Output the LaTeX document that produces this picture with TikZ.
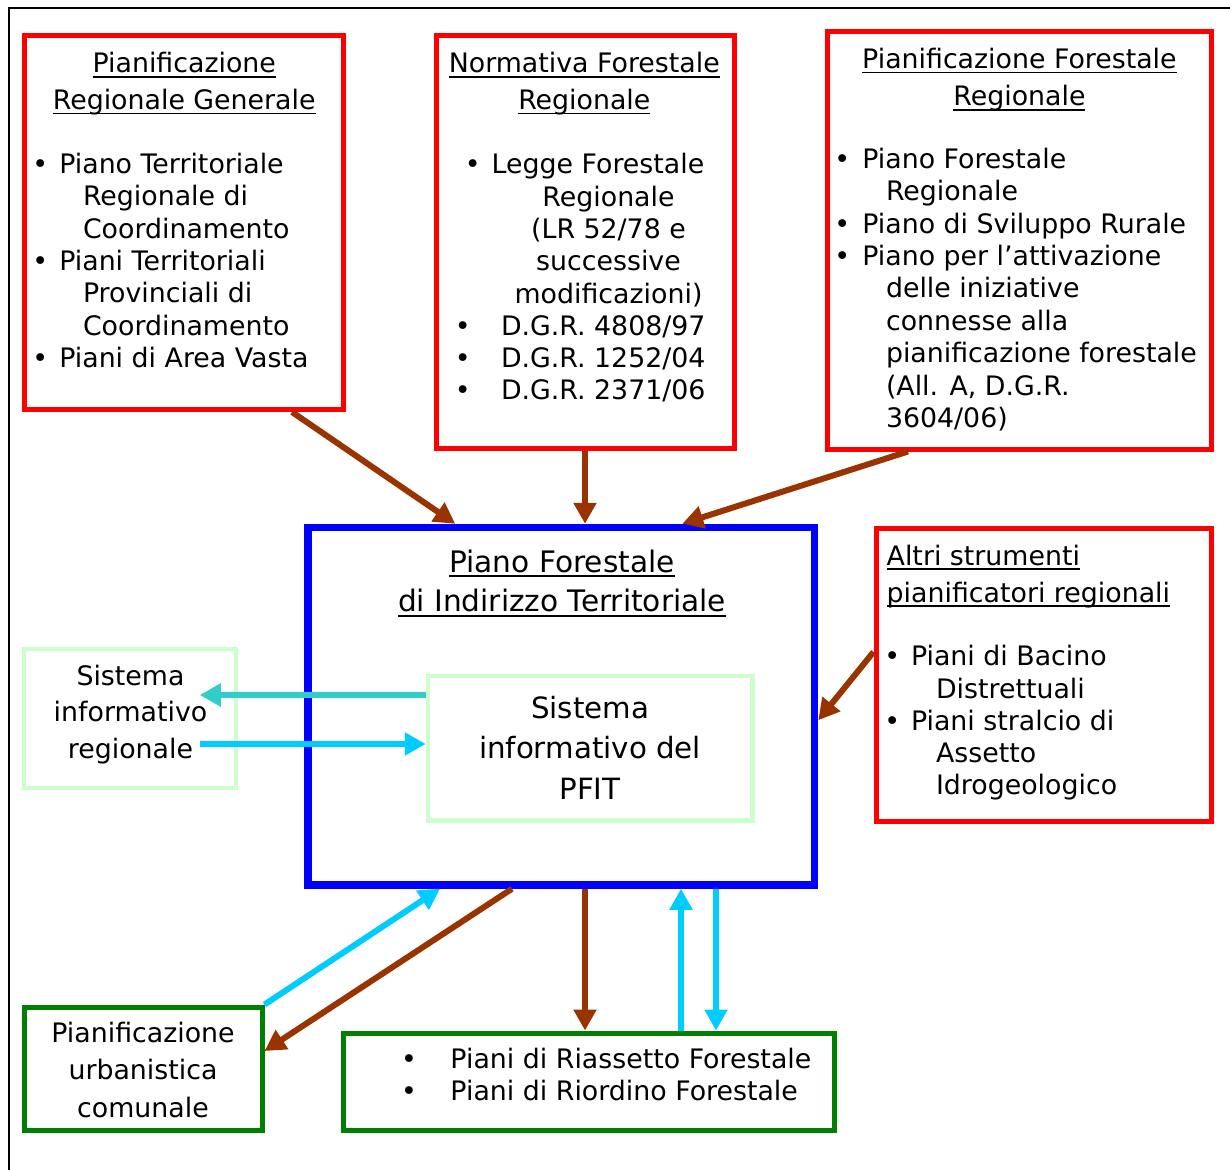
\documentclass[tikz,border=0pt]{standalone}
\usepackage{fontspec}
\setmainfont{DejaVu Sans}
\usetikzlibrary{arrows.meta,calc}

\definecolor{brn}{HTML}{993300}
\definecolor{cyn}{HTML}{00CCFF}
\definecolor{tea}{HTML}{33CCCC}
\definecolor{lgr}{HTML}{CCFFCC}
\definecolor{dgr}{HTML}{008000}
\definecolor{rd}{HTML}{FF0000}
\definecolor{bl}{HTML}{0000FF}

% font size / baseline skip
\newcommand\fs[2]{\fontsize{#1}{#2}\selectfont}
% underline at a fixed distance below the baseline
\newcommand\undl[1]{\setbox0\hbox{#1}\rlap{\rule[-5pt]{\wd0}{1.7pt}}\box0}
% bullet in a box of given width
\newcommand\bul[1]{\makebox[#1][l]{•}}

% multi-line text nodes are placed by the baseline of their last line
\tikzset{
  redbox/.style={draw=rd, line width=5pt, outer sep=2.5pt, inner sep=0pt},
  bluebox/.style={draw=bl, line width=7.5pt, outer sep=3.75pt, inner sep=0pt},
  sibox/.style={draw=lgr, line width=4.5pt, outer sep=2.25pt, inner sep=0pt},
  greenbox/.style={draw=dgr, line width=5pt, outer sep=2.5pt, inner sep=0pt},
  txt/.style={inner sep=0pt, outer sep=0pt},
  head/.style={-{Triangle[length=21pt,width=22pt]}},
  brownarrow/.style={draw=brn, line width=6pt, head},
  cyanarrow/.style={draw=cyn, line width=6pt, head},
  tealarrow/.style={draw=tea, line width=6pt, head},
  frameline/.style={draw=black, line width=2pt},
}

\begin{document}
\begin{tikzpicture}[x=1pt,y=-1pt]
\useasboundingbox (0,0) rectangle (1230,1169);

% open outer frame
\draw[frameline] (1231,8) -- (9,8) -- (9,1170);

% ---------- boxes ----------
\node[redbox, minimum width=319, minimum height=373.5] (A) at (183.5,222.75) {};
\node[redbox, minimum width=298, minimum height=412] (B) at (585,242) {};
\node[redbox, minimum width=384, minimum height=417.5] (C) at (1019,240.25) {};
\node[redbox, minimum width=335, minimum height=293] (D) at (1043.5,674.5) {};
\node[bluebox, minimum width=506.5, minimum height=357.5] (M) at (561.25,706.25) {};
\node[sibox, minimum width=324.5, minimum height=144.5] (S) at (590.25,748.25) {};
\node[sibox, minimum width=212, minimum height=139] (R) at (130,718.5) {};
\node[greenbox, minimum width=238, minimum height=123] (U) at (143,1068.5) {};
\node[greenbox, minimum width=491, minimum height=97.5] (P) at (588.5,1081.75) {};

% ---------- texts ----------
% Pianificazione Regionale Generale
\node[txt, anchor=base, align=center, font=\fs{26.8}{36.6}] (Atitle) at (184.2,109.3)
  {\undl{Pianificazione}\\\undl{Regionale Generale}};
\node[txt, anchor=base west, align=left, font=\fs{26.8}{32.4}] (Alist) at (32.4,367.7)
  {\bul{26.9pt}Piano Territoriale\\
   \hspace*{50.6pt}Regionale di\\
   \hspace*{50.6pt}Coordinamento\\
   \bul{26.9pt}Piani Territoriali\\
   \hspace*{50.6pt}Provinciali di\\
   \hspace*{50.6pt}Coordinamento\\
   \bul{26.9pt}Piani di Area Vasta};

% Normativa Forestale Regionale
\node[txt, anchor=base, align=center, font=\fs{26.8}{36.6}] (Btitle) at (584.3,109.3)
  {\undl{Normativa Forestale}\\\undl{Regionale}};
\node[txt, anchor=base west, font=\fs{26.8}{32.4}] (Blegge) at (464.8,173.3)
  {\bul{26.9pt}Legge Forestale};
\node[txt, anchor=base, align=center, font=\fs{26.8}{32.4}] (Blr) at (608.5,303.2)
  {Regionale\\(LR 52/78 e\\successive\\modificazioni)};
\node[txt, anchor=base west, align=left, font=\fs{26.8}{32.3}] (Bdgr) at (454.8,399.6)
  {\bul{46.2pt}D.G.R. 4808/97\\
   \bul{46.2pt}D.G.R. 1252/04\\
   \bul{46.2pt}D.G.R. 2371/06};

% Pianificazione Forestale Regionale
\node[txt, anchor=base, align=center, font=\fs{26.8}{37.7}] (Ctitle) at (1019.4,106)
  {\undl{Pianificazione Forestale}\\\undl{Regionale}};
\node[txt, anchor=base west, align=left, font=\fs{26.8}{32.4}] (Clist) at (834.4,427.5)
  {\bul{27.9pt}Piano Forestale\\
   \hspace*{51.6pt}Regionale\\
   \bul{27.9pt}Piano di Sviluppo Rurale\\
   \bul{27.9pt}Piano per l’attivazione\\
   \hspace*{51.6pt}delle iniziative\\
   \hspace*{51.6pt}connesse alla\\
   \hspace*{51.6pt}pianificazione forestale\\
   \hspace*{51.6pt}(All. A, D.G.R.\\
   \hspace*{51.6pt}3604/06)};

% Altri strumenti pianificatori regionali
\node[txt, anchor=base west, align=left, font=\fs{26.8}{37}] (Dtitle) at (886.7,602)
  {\undl{Altri strumenti}\\\undl{pianificatori regionali}};
\node[txt, anchor=base west, align=left, font=\fs{26.8}{32.3}] (Dlist) at (884.4,794.9)
  {\bul{26.6pt}Piani di Bacino\\
   \hspace*{51.6pt}Distrettuali\\
   \bul{26.6pt}Piani stralcio di\\
   \hspace*{51.6pt}Assetto\\
   \hspace*{51.6pt}Idrogeologico};

% PFIT
\node[txt, anchor=base, align=center, font=\fs{29.6}{39.5}] (Mtitle) at (562,611.5)
  {\undl{Piano Forestale}\\\undl{di Indirizzo Territoriale}};
\node[txt, anchor=base, align=center, font=\fs{29.3}{40.5}] (Stext) at (590,799.3)
  {Sistema\\informativo del\\PFIT};
\node[txt, anchor=base, align=center, font=\fs{26.8}{36.7}] (Rtext) at (130.5,758.4)
  {Sistema\\informativo\\regionale};
\node[txt, anchor=base, align=center, font=\fs{26.8}{37.5}] (Utext) at (143,1117)
  {Pianificazione\\urbanistica\\comunale};
\node[txt, anchor=base west, align=left, font=\fs{26.8}{32}] (Ptext) at (401.1,1100.5)
  {\bul{49.4pt}Piani di Riassetto Forestale\\
   \bul{49.4pt}Piani di Riordino Forestale};

% ---------- connectors ----------
\draw[brownarrow] ($(A.south west)+(270.5,0)$) -- ($(M.north west)+(151,0)$);
\draw[brownarrow] (B.south) -- (B.south |- M.north);
\draw[brownarrow] ($(C.south west)+(83.5,0)$) -- ($(M.north east)+(-136,0)$);
\draw[brownarrow] ($(D.west)+(0,-22.5)$) -- ($(M.east)+(0,14)$);

\coordinate (rIn) at ($(R.east)+(-38.5,0)$);
\coordinate (sOut) at ($(S.west)+(0,-53.25)$);
\coordinate (sIn) at ($(S.west)+(0,-4.25)$);
\draw[tealarrow] (sOut) -- (sOut -| rIn);
\draw[cyanarrow] (sIn -| rIn) -- (sIn);

\draw[cyanarrow] (U.north east) -- ($(M.south west)+(135.75,0)$);
\draw[brownarrow] ($(M.south west)+(207.75,0)$) -- ($(U.east)+(0,-17.5)$);

\coordinate (pDown) at ($(M.south west)+(280.75,0)$);
\draw[brownarrow] (pDown) -- (pDown |- P.north);
\coordinate (pUp) at ($(P.north west)+(340.5,0)$);
\draw[cyanarrow] (pUp) -- (pUp |- M.south);
\coordinate (pIn) at ($(P.north west)+(375.5,0)$);
\draw[cyanarrow] (pIn |- M.south) -- (pIn);
\end{tikzpicture}
\end{document}
